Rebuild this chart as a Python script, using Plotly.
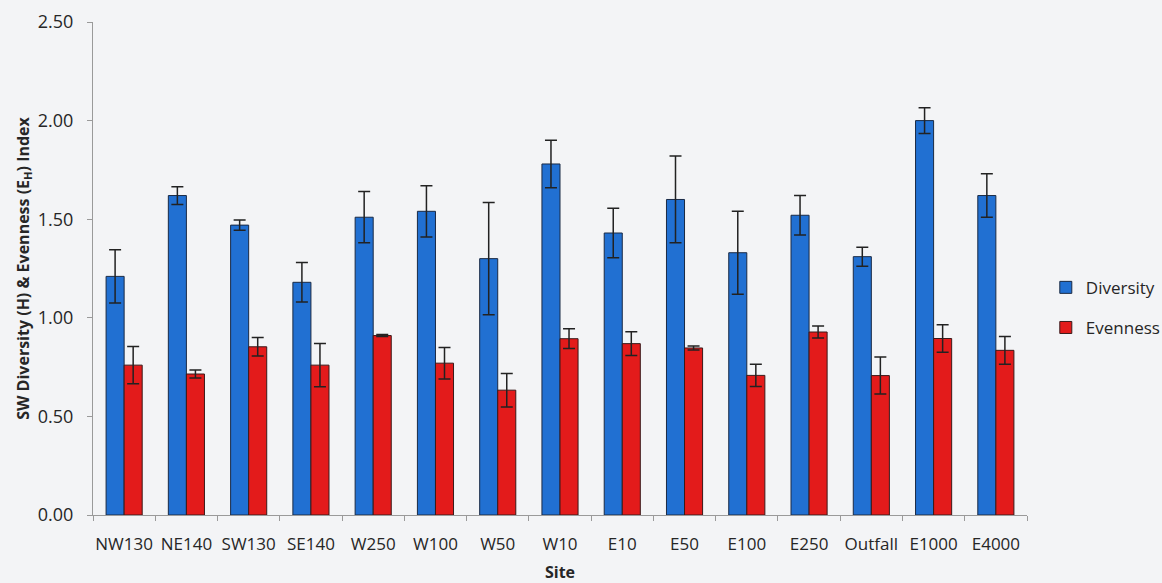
import plotly.graph_objects as go

sites = ["NW130", "NE140", "SW130", "SE140", "W250", "W100", "W50", "W10",
         "E10", "E50", "E100", "E250", "Outfall", "E1000", "E4000"]
diversity = [1.21, 1.62, 1.47, 1.18, 1.51, 1.54, 1.30, 1.78, 1.43, 1.60, 1.33, 1.52, 1.31, 2.00, 1.62]
diversity_err = [0.135, 0.045, 0.026, 0.10, 0.13, 0.13, 0.285, 0.12, 0.125, 0.22, 0.21, 0.10, 0.048, 0.065, 0.11]
evenness = [0.76, 0.715, 0.853, 0.76, 0.91, 0.77, 0.633, 0.894, 0.869, 0.847, 0.708, 0.928, 0.707, 0.895, 0.835]
evenness_err = [0.094, 0.02, 0.047, 0.11, 0.005, 0.08, 0.085, 0.05, 0.06, 0.01, 0.056, 0.03, 0.094, 0.07, 0.07]
y_ticks = [0.0, 0.5, 1.0, 1.5, 2.0, 2.5]

FONT = "Open Sans, Noto Sans, sans-serif"
TXT = "#262626"

fig = go.Figure()
fig.add_trace(go.Bar(
    name="Diversity", x=sites, y=diversity, legendgroup="div",
    marker=dict(color="#2170d2", line=dict(color="#1a2a44", width=1)),
    error_y=dict(type="data", array=diversity_err, visible=True,
                 color="#222222", thickness=1.5, width=6),
))
fig.add_trace(go.Bar(
    name="Evenness", x=sites, y=evenness, legendgroup="even",
    marker=dict(color="#e31b1b", line=dict(color="#3a1a1a", width=1)),
    error_y=dict(type="data", array=evenness_err, visible=True,
                 color="#222222", thickness=1.5, width=6),
))

fig.update_layout(
    width=1162, height=583,
    margin=dict(l=93, r=135, t=22, b=68),
    paper_bgcolor="#f3f4f6", plot_bgcolor="#f3f4f6",
    barmode="group", bargap=0.42, bargroupgap=0.0,
    font=dict(family=FONT, size=17, color=TXT),
    legend=dict(xref="container", yref="container", x=0.9, y=0.472,
                xanchor="left", yanchor="middle",
                font=dict(size=17, color=TXT), tracegroupgap=15,
                bgcolor="rgba(0,0,0,0)", itemwidth=30),
    showlegend=True,
)
fig.update_xaxes(
    type="category", showline=True, linecolor="#9a9a9a", linewidth=1,
    ticks="outside", tickson="boundaries", ticklen=5, tickcolor="#9a9a9a",
    showgrid=False, automargin=False, ticklabelstandoff=14, tickangle=0,
    tickfont=dict(size=17, family=FONT, color=TXT),
    title=dict(text="<b>Site</b>", font=dict(size=16, family=FONT, color=TXT), standoff=16),
)
fig.update_yaxes(
    range=[0, 2.5], tickvals=y_ticks, tickformat=".2f",
    showline=True, linecolor="#9a9a9a", linewidth=1,
    ticks="outside", ticklen=5, tickcolor="#9a9a9a", showgrid=False, zeroline=False,
    automargin=False, ticklabelstandoff=10,
    tickfont=dict(size=18, family=FONT, color=TXT),
    title=dict(text="<b>SW Diversity (H) &amp; Evenness (E<sub>H</sub>) Index</b>",
               font=dict(size=16, family=FONT, color=TXT), standoff=4),
)

fig.write_html("out.html")
